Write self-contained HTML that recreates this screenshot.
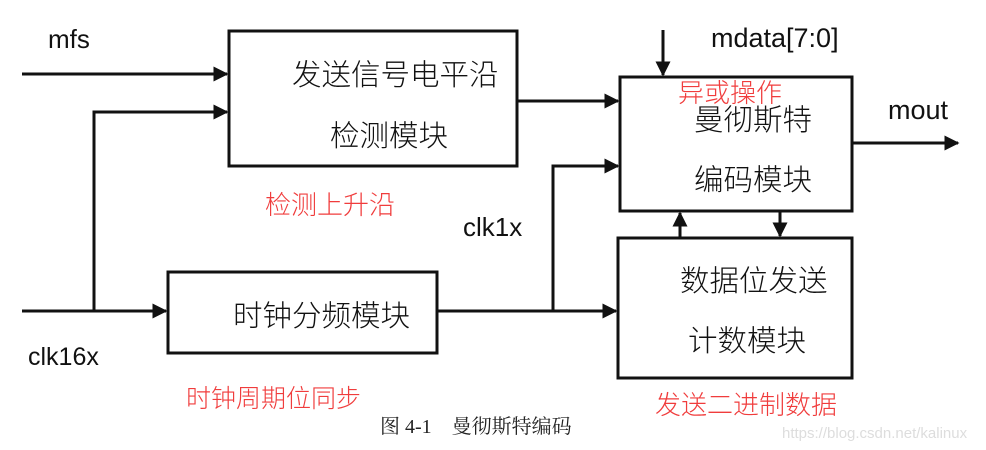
<!DOCTYPE html>
<html><head><meta charset="utf-8"><style>
body{margin:0;background:#fff;width:986px;height:450px;overflow:hidden}
svg{display:block}
.z{font-family:"Liberation Sans","Noto Sans CJK SC",sans-serif}
</style></head><body>
<svg width="986" height="450" xmlns="http://www.w3.org/2000/svg">
<defs><marker id="a" viewBox="0 0 10 10" refX="9" refY="5" markerWidth="5" markerHeight="5" orient="auto"><path d="M0,0L10,5L0,10z" fill="#111"/></marker></defs>
<g fill="none" stroke="#111" stroke-width="3">
<rect x="229" y="31" width="288" height="135"/>
<rect x="620" y="77" width="232" height="134"/>
<rect x="618" y="238" width="234" height="140"/>
<rect x="168" y="272" width="269" height="81"/>
<path d="M22 74H227" marker-end="url(#a)"/>
<path d="M94 311V112H227" marker-end="url(#a)"/>
<path d="M22 311H166" marker-end="url(#a)"/>
<path d="M437 311H616" marker-end="url(#a)"/>
<path d="M553 311V166H618" marker-end="url(#a)"/>
<path d="M517 101H618" marker-end="url(#a)"/>
<path d="M663 30V75" marker-end="url(#a)"/>
<path d="M852 143H958" marker-end="url(#a)"/>
<path d="M680 238V213" marker-end="url(#a)"/>
<path d="M780 211V236" marker-end="url(#a)"/>
</g>
<g class="z" fill="#111">
<text x="48" y="48" font-size="26">mfs</text>
<text x="711" y="47" font-size="27">mdata[7:0]</text>
<text x="888" y="119" font-size="27">mout</text>
<text x="463" y="236" font-size="26">clk1x</text>
<text x="28" y="365" font-size="25">clk16x</text>
</g>
<g class="z" font-size="29.5" fill="#111" font-weight="300">
<text x="292" y="85">发送信号电平沿</text>
<text x="330" y="146">检测模块</text>
<text x="694" y="130">曼彻斯特</text>
<text x="694" y="190">编码模块</text>
<text x="680" y="291">数据位发送</text>
<text x="688" y="351">计数模块</text>
<text x="233" y="326">时钟分频模块</text>
</g>
<g class="z" font-size="26" fill="#f03c3c" font-weight="300">
<text x="265" y="214">检测上升沿</text>
<text x="186" y="407" font-size="25">时钟周期位同步</text>
<text x="655" y="414">发送二进制数据</text>
<text x="678" y="102">异或操作</text>
</g>
<text x="380" y="433" font-family="'Liberation Serif','Noto Serif CJK SC',serif" font-size="20" fill="#222">图 4-1　曼彻斯特编码</text>
<text x="782" y="438" class="z" font-size="15" fill="#ddd">https://blog.csdn.net/kalinux</text>
</svg>
</body></html>
